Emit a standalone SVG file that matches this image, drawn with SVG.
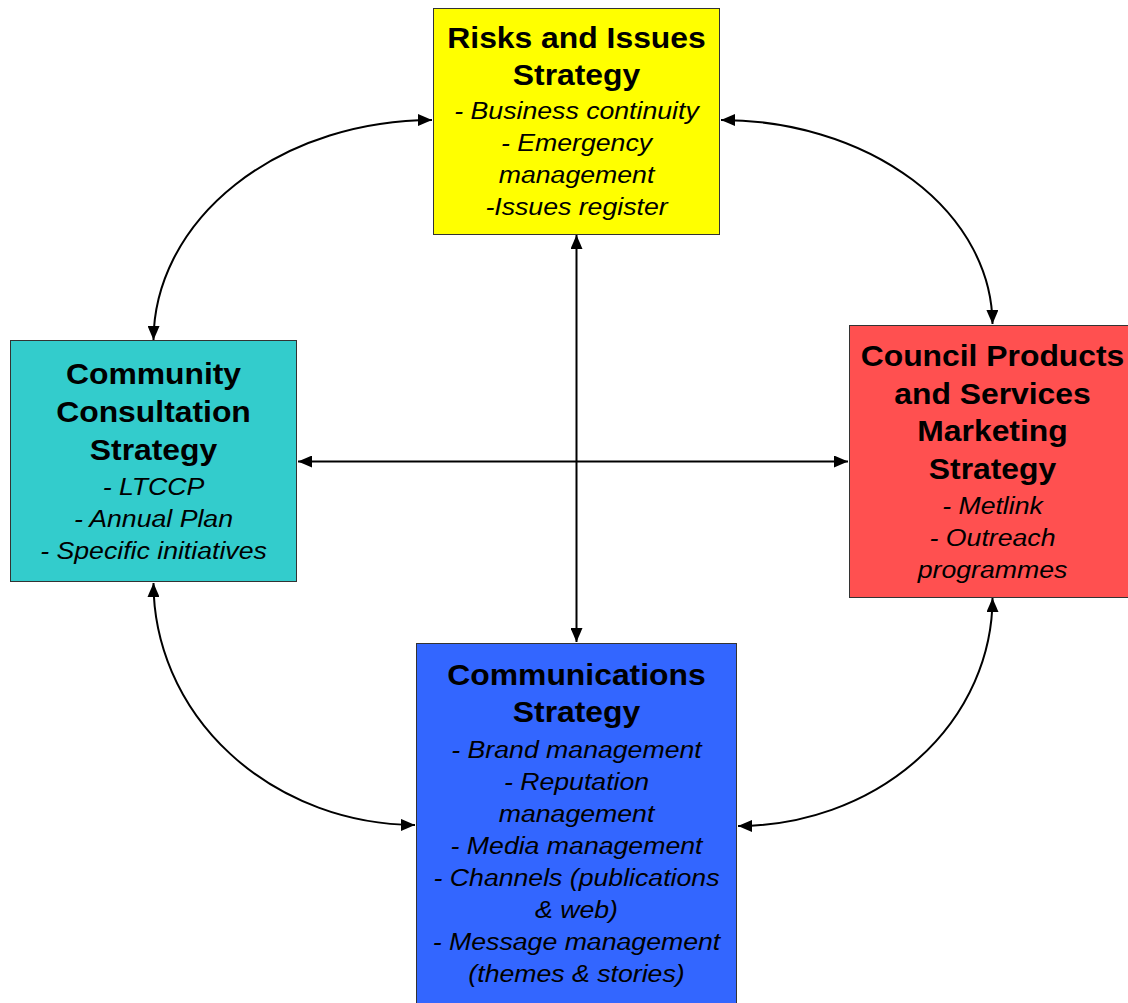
<svg xmlns="http://www.w3.org/2000/svg" width="1128" height="1003" viewBox="0 0 1128 1003">
<defs>
<marker id="ah" markerUnits="userSpaceOnUse" markerWidth="14" markerHeight="12" refX="14" refY="6" orient="auto-start-reverse">
<path d="M0,0 L14,6 L0,12 z" fill="#000"/>
</marker>
<style>
.box{stroke:#333;stroke-width:1}
.t{font-family:"Liberation Sans",Arial,sans-serif;font-weight:bold;font-size:29.5px;fill:#000;text-anchor:middle}
.i{font-family:"Liberation Sans",Arial,sans-serif;font-style:italic;font-size:24.7px;fill:#000;text-anchor:middle}
.c{fill:none;stroke:#000;stroke-width:2;marker-start:url(#ah);marker-end:url(#ah)}
</style>
</defs>
<rect width="1128" height="1003" fill="#fff"/>
<g id="connectors">
<path class="c" d="M576.5,235 L576.5,642"/>
<path class="c" d="M298,461.5 L848,461.5"/>
<path class="c" d="M432,120 A279,221 0 0 0 153.5,340"/>
<path class="c" d="M721,120 A272,205 0 0 1 992.5,324"/>
<path class="c" d="M153.5,583 A263,242 0 0 0 415,825"/>
<path class="c" d="M992.5,598 A255,228 0 0 1 738,826"/>
</g>
<g id="risks">
<rect class="box" x="433.5" y="8.5" width="286" height="226" fill="#FFFF00"/>
<g transform="translate(576.5 0) scale(1.08 1)">
<text class="t" x="0" y="48">Risks and Issues</text>
<text class="t" x="0" y="85">Strategy</text>
<text class="i" x="0" y="119">- Business continuity</text>
<text class="i" x="0" y="151">- Emergency</text>
<text class="i" x="0" y="183">management</text>
<text class="i" x="0" y="215">-Issues register</text>
</g>
</g>
<g id="community">
<rect class="box" x="10.5" y="340.5" width="286" height="241" fill="#33CCCC"/>
<g transform="translate(153.5 0) scale(1.08 1)">
<text class="t" x="0" y="384">Community</text>
<text class="t" x="0" y="422">Consultation</text>
<text class="t" x="0" y="460">Strategy</text>
<text class="i" x="0" y="495">- LTCCP</text>
<text class="i" x="0" y="527">- Annual Plan</text>
<text class="i" x="0" y="559">- Specific initiatives</text>
</g>
</g>
<g id="council">
<rect class="box" x="849.5" y="325.5" width="287" height="272" fill="#FF5050"/>
<g transform="translate(992.5 0) scale(1.08 1)">
<text class="t" x="0" y="366">Council Products</text>
<text class="t" x="0" y="404">and Services</text>
<text class="t" x="0" y="441">Marketing</text>
<text class="t" x="0" y="479">Strategy</text>
<text class="i" x="0" y="514">- Metlink</text>
<text class="i" x="0" y="546">- Outreach</text>
<text class="i" x="0" y="578">programmes</text>
</g>
</g>
<g id="communications">
<rect class="box" x="416.5" y="643.5" width="320" height="370" fill="#3366FF"/>
<g transform="translate(576.5 0) scale(1.08 1)">
<text class="t" x="0" y="685">Communications</text>
<text class="t" x="0" y="722">Strategy</text>
<text class="i" x="0" y="758">- Brand management</text>
<text class="i" x="0" y="790">- Reputation</text>
<text class="i" x="0" y="822">management</text>
<text class="i" x="0" y="854">- Media management</text>
<text class="i" x="0" y="886">- Channels (publications</text>
<text class="i" x="0" y="918">&amp; web)</text>
<text class="i" x="0" y="950">- Message management</text>
<text class="i" x="0" y="982">(themes &amp; stories)</text>
</g>
</g>
</svg>
